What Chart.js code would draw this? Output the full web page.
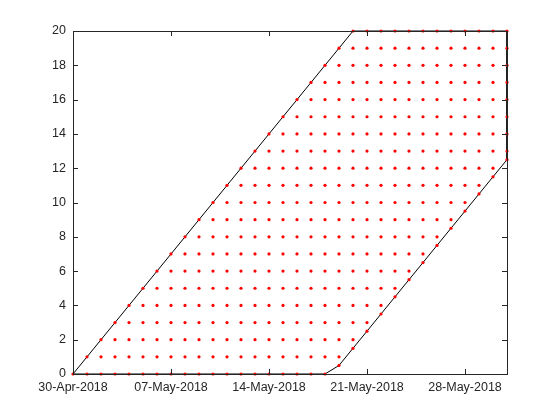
<!DOCTYPE html>
<html>
<head>
<meta charset="utf-8">
<script src="https://cdn.jsdelivr.net/npm/chart.js@4.4.1/dist/chart.umd.min.js"></script>
<style>
  html, body { margin: 0; padding: 0; background: #fff; }
  #wrap { width: 560px; height: 420px; }
</style>
</head>
<body>
<div id="wrap"><canvas id="c" width="560" height="420"></canvas></div>
<script>
// x values are days after 30-Apr-2018
const tickDays = [0, 7, 14, 21, 28];
const tickLabels = ['30-Apr-2018', '07-May-2018', '14-May-2018', '21-May-2018', '28-May-2018'];
const yTicks = [0, 2, 4, 6, 8, 10, 12, 14, 16, 18, 20];

// rows of red dots: level, first day and last day of each row
const rowLevel    = [0, 1, 2, 3, 4, 5, 6, 7, 8, 9, 10, 11, 12, 13, 14, 15, 16, 17, 18, 19, 20];
const rowFirstDay = [0, 1, 2, 3, 4, 5, 6, 7, 8, 9, 10, 11, 12, 13, 14, 15, 16, 17, 18, 19, 20];
const rowLastDay  = [18, 19, 20, 21, 22, 23, 24, 25, 26, 27, 28, 29, 30, 31, 31, 31, 31, 31, 31, 31, 31];

// dots sitting on the lower right edge
const edgeDay   = [19, 20, 21, 22, 23, 24, 25, 26, 27, 28, 29, 30, 31];
const edgeLevel = [0.5, 1.5, 2.5, 3.5, 4.5, 5.5, 6.5, 7.5, 8.5, 9.5, 10.5, 11.5, 12.5];

// black outline
const outlineDay   = [0, 20, 31, 31, 19, 18, 0];
const outlineLevel = [0, 20, 20, 12.5, 0.5, 0, 0];

let dots = [];
rowLevel.forEach(function (lv, i) {
  for (let d = rowFirstDay[i]; d <= rowLastDay[i]; d++) dots.push({x: d, y: lv});
});
edgeDay.forEach(function (d, i) { dots.push({x: d, y: edgeLevel[i]}); });

const outline = outlineDay.map(function (d, i) { return {x: d, y: outlineLevel[i]}; });

const axisColor = '#262626';

// matlab style box with inward ticks
const boxPlugin = {
  id: 'box',
  afterDraw: function (chart) {
    const ctx = chart.ctx, a = chart.chartArea;
    const xs = chart.scales.x, ys = chart.scales.y;
    const tl = 5;
    ctx.save();
    ctx.strokeStyle = axisColor;
    ctx.lineWidth = 1;
    ctx.beginPath();
    xs.ticks.forEach(function (t) {
      const px = Math.round(xs.getPixelForValue(t.value)) + 0.5;
      ctx.moveTo(px, a.bottom); ctx.lineTo(px, a.bottom - tl);
      ctx.moveTo(px, a.top); ctx.lineTo(px, a.top + tl);
    });
    ys.ticks.forEach(function (t) {
      const py = Math.round(ys.getPixelForValue(t.value)) + 0.5;
      ctx.moveTo(a.left, py); ctx.lineTo(a.left + tl, py);
      ctx.moveTo(a.right, py); ctx.lineTo(a.right - tl, py);
    });
    ctx.stroke();
    ctx.strokeRect(Math.round(a.left) + 0.5, Math.round(a.top) + 0.5,
                   Math.round(a.right - a.left), Math.round(a.bottom - a.top));
    ctx.restore();
  }
};

new Chart(document.getElementById('c'), {
  type: 'scatter',
  data: {
    datasets: [
      {
        data: dots,
        pointRadius: 1.6,
        pointHoverRadius: 1.6,
        pointBackgroundColor: '#ff0000',
        pointBorderWidth: 0,
        showLine: false,
        clip: false,
        order: 0
      },
      {
        data: outline,
        showLine: true,
        borderColor: '#000000',
        borderWidth: 1,
        pointRadius: 0,
        fill: false,
        clip: false,
        order: 1
      }
    ]
  },
  options: {
    responsive: false,
    animation: false,
    events: [],
    layout: { padding: { left: 0, top: 31, right: 53, bottom: 0 } },
    plugins: { legend: { display: false }, tooltip: { enabled: false } },
    scales: {
      x: {
        type: 'linear',
        min: 0,
        max: 31,
        afterBuildTicks: function (s) { s.ticks = tickDays.map(function (v) { return {value: v}; }); },
        afterFit: function (s) { s.height = 46; },
        grid: { display: false, drawTicks: false },
        border: { display: false },
        ticks: {
          padding: 6,
          color: axisColor,
          font: { family: 'Liberation Sans', size: 12.5 },
          maxRotation: 0,
          autoSkip: false,
          callback: function (v) { return tickLabels[tickDays.indexOf(v)]; }
        }
      },
      y: {
        min: 0,
        max: 20,
        afterBuildTicks: function (s) { s.ticks = yTicks.map(function (v) { return {value: v}; }); },
        afterFit: function (s) { s.width = 73; },
        grid: { display: false, drawTicks: false },
        border: { display: false },
        ticks: {
          padding: 7,
          color: axisColor,
          font: { family: 'Liberation Sans', size: 12.5 }
        }
      }
    }
  },
  plugins: [boxPlugin]
});
</script>
</body>
</html>
